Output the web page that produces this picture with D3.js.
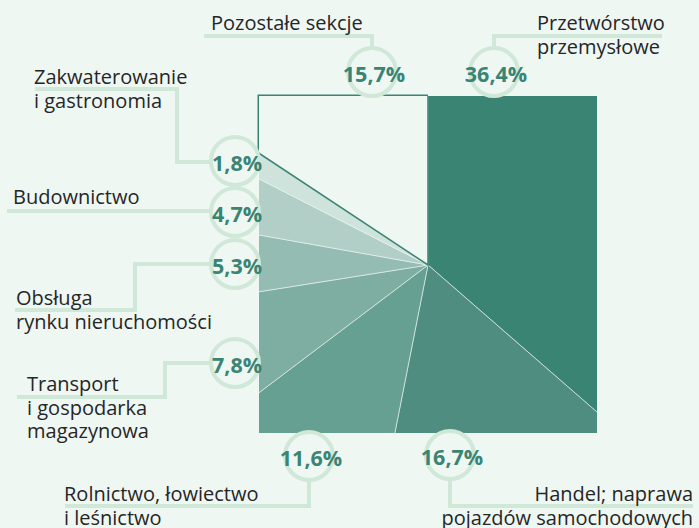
<!DOCTYPE html>
<html lang="pl">
<head>
    <meta charset="UTF-8">
    <title>Struktura sekcji</title>
    <script src="https://d3js.org/d3.v7.min.js"></script>
    <style>
        body { margin: 0; background: #eff7f3; }
        svg { display: block; font-family: "Open Sans", sans-serif; }
        .label text.name { font-size: 20px; fill: #262626; }
        .label text.pct { font-size: 21.5px; font-weight: 700; fill: #3a8474; }
    </style>
</head>
<body>

<div id="chart"></div>

<script>
// Data (order clockwise from 12 o'clock)
const sections = ["Przetwórstwo przemysłowe", "Handel; naprawa pojazdów samochodowych",
    "Rolnictwo, łowiectwo i leśnictwo", "Transport i gospodarka magazynowa",
    "Obsługa rynku nieruchomości", "Budownictwo", "Zakwaterowanie i gastronomia", "Pozostałe sekcje"];
const shares = [36.4, 16.7, 11.6, 7.8, 5.3, 4.7, 1.8, 15.7];
const labelLines = [
    ["Przetwórstwo", "przemysłowe"],
    ["Handel; naprawa", "pojazdów samochodowych"],
    ["Rolnictwo, łowiectwo", "i leśnictwo"],
    ["Transport", "i gospodarka", "magazynowa"],
    ["Obsługa", "rynku nieruchomości"],
    ["Budownictwo"],
    ["Zakwaterowanie", "i gastronomia"],
    ["Pozostałe sekcje"]
];
const colors = ["#3a8474", "#4f8d80", "#66a092", "#7eaea2", "#95bcb3", "#b1cfc6", "#cde3db", "#eff7f3"];

const width = 699, height = 528;
const sq = {x0: 259, x1: 597, y0: 96, y1: 433};
const cx = 428, cy = 265;
const r = 24;
const last = shares.length - 1;

// annotation layout: circle centre, connector polyline, text anchor
const layout = [
    {c: [494, 72], path: [[494, 48], [494, 36], [662, 36]], tx: 537, ty: 30, anchor: "start"},
    {c: [450, 455], path: [[450, 479], [450, 506], [693, 506]], tx: 693, ty: 501, anchor: "end"},
    {c: [309, 456], path: [[309, 480], [309, 506], [65, 506]], tx: 64, ty: 501, anchor: "start"},
    {c: [235, 363], path: [[211, 363], [165, 363], [165, 397], [17, 397]], tx: 27, ty: 391, anchor: "start"},
    {c: [235, 264], path: [[211, 264], [135, 264], [135, 310], [15, 310]], tx: 16, ty: 305, anchor: "start"},
    {c: [235, 212], path: [[7, 211], [211, 211]], tx: 13, ty: 204, anchor: "start"},
    {c: [235, 161], path: [[211, 162], [177, 162], [177, 89], [35, 89]], tx: 34, ty: 84, anchor: "start"},
    {c: [372, 72], path: [[372, 48], [372, 36], [204, 36]], tx: 211, ty: 30, anchor: "start"}
];

const data = sections.map((s, i) => ({name: s, value: shares[i], lines: labelLines[i], color: colors[i], lay: layout[i]}));

const svg = d3.select("#chart")
              .append("svg")
              .attr("width", width)
              .attr("height", height);

const defs = svg.append("defs");
[["square", 0], ["squareOut", 1.5]].forEach(([id, pad]) => {
    defs.append("clipPath")
        .attr("id", id)
        .append("rect")
        .attr("x", sq.x0 - pad)
        .attr("y", sq.y0 - pad)
        .attr("width", sq.x1 - sq.x0 + 2 * pad)
        .attr("height", sq.y1 - sq.y0 + 2 * pad);
});

const pie = d3.pie().sort(null).value(d => d.value);
const arc = d3.arc().innerRadius(0).outerRadius(500);
const arcs = pie(data);

// outline of the "other" slice along the square edge
svg.append("g")
   .attr("clip-path", "url(#squareOut)")
   .append("path")
   .attr("transform", `translate(${cx},${cy})`)
   .attr("d", arc(arcs[last]))
   .attr("fill", "#3a8474");

const slices = svg.append("g")
                  .attr("clip-path", "url(#square)")
                  .append("g")
                  .attr("transform", `translate(${cx},${cy})`);

slices.selectAll("path")
      .data(arcs)
      .join("path")
      .attr("d", arc)
      .attr("fill", d => d.data.color)
      .attr("stroke", d => d.index === last ? "#3a8474" : "#eff7f3")
      .attr("stroke-width", d => d.index === last ? 1.5 : 0.6);

slices.selectAll("path").filter(d => d.index === last).raise();

const line = d3.line();

const labels = svg.append("g")
                  .selectAll("g.label")
                  .data(data)
                  .join("g")
                  .attr("class", "label");

labels.append("path")
      .attr("d", d => line(d.lay.path))
      .attr("fill", "none")
      .attr("stroke", "#cfe8d8")
      .attr("stroke-width", 4);

labels.append("circle")
      .attr("cx", d => d.lay.c[0])
      .attr("cy", d => d.lay.c[1])
      .attr("r", r)
      .attr("fill", "none")
      .attr("stroke", "#cfe8d8")
      .attr("stroke-width", 4);

labels.append("text")
      .attr("class", "pct")
      .attr("x", d => d.lay.c[0] + 2)
      .attr("y", d => d.lay.c[1] + 10)
      .attr("text-anchor", "middle")
      .text(d => d3.format(".1f")(d.value).replace(".", ",") + "%");

labels.each(function(d) {
    const t = d3.select(this).append("text")
                .attr("class", "name")
                .attr("text-anchor", d.lay.anchor);
    d.lines.forEach((s, i) => {
        t.append("tspan")
         .attr("x", d.lay.tx)
         .attr("y", d.lay.ty + i * 23.5)
         .text(s);
    });
});
</script>

</body>
</html>
